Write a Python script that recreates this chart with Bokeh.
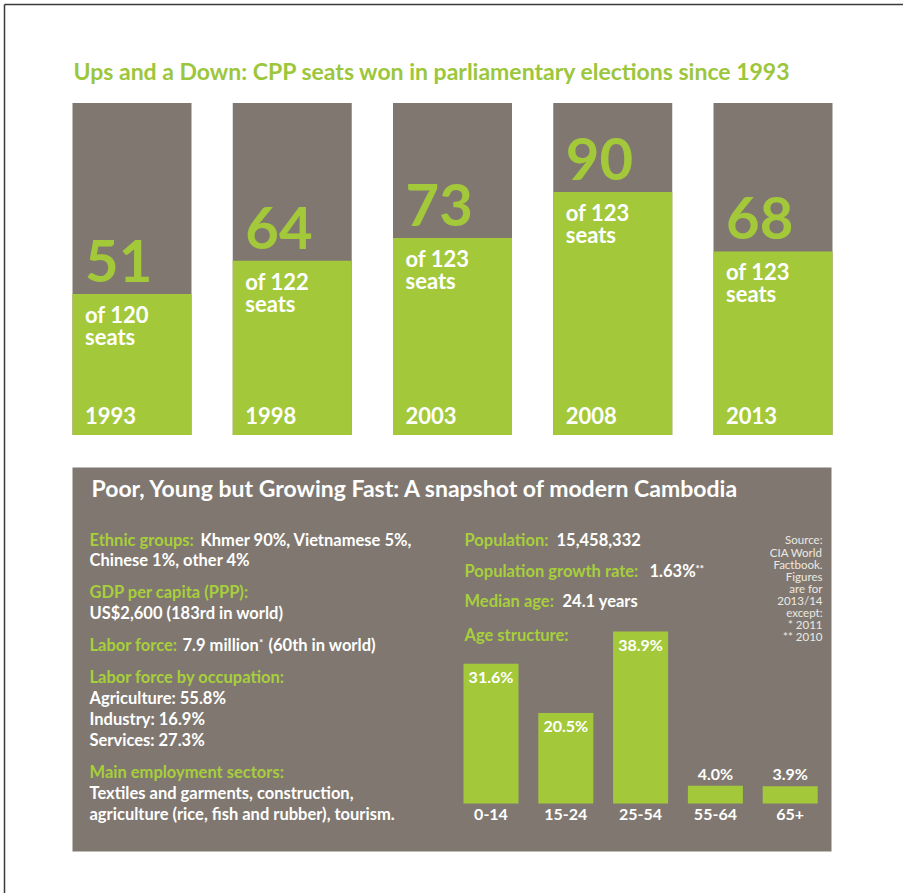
from bokeh.plotting import figure
from bokeh.models import Range1d, ColumnDataSource
from bokeh.core.properties import value
from bokeh.embed import file_html
from bokeh.resources import INLINE

# ---------------- data ----------------
title_top = "Ups and a Down: CPP seats won in parliamentary elections since 1993"
years = [1993, 1998, 2003, 2008, 2013]
seats_won = [51, 64, 73, 90, 68]
seats_total = [120, 122, 123, 123, 123]

title_bottom = "Poor, Young but Growing Fast: A snapshot of modern Cambodia"
age_groups = ["0-14", "15-24", "25-54", "55-64", "65+"]
age_pct = [31.6, 20.5, 38.9, 4.0, 3.9]

left_lines = [  # (green label, white text)
    ("Ethnic groups: ", "Khmer 90%, Vietnamese 5%,"),
    ("", "Chinese 1%, other 4%"),
    ("GDP per capita (PPP):", ""),
    ("", "US$2,600 (183rd in world)"),
    ("Labor force: ", "7.9 million"),
    ("Labor force by occupation:", ""),
    ("", "Agriculture: 55.8%"),
    ("", "Industry: 16.9%"),
    ("", "Services: 27.3%"),
    ("Main employment sectors:", ""),
    ("", "Textiles and garments, construction,"),
    ("", "agriculture (rice, fish and rubber), tourism."),
]
labor_rank = "(60th in world)"
right_lines = [
    ("Population: ", "15,458,332"),
    ("Population growth rate: ", "1.63%"),
    ("Median age: ", "24.1 years"),
    ("Age structure:", ""),
]
source_lines = ["Source:", "CIA World", "Factbook.", "Figures", "are for",
                "2013/14", "except:", "* 2011", "** 2010"]

# ---------------- style / layout ----------------
W, H = 903, 893
GREEN = "#a3c93a"
TGREEN = "#9cc63b"
LG = "#a7cf3b"
GRAY = "#807870"
FONT = value("Lato")
BL = 0.40  # baseline correction (fraction of font size) for the svg text renderer


def fs(px):
    return f"{px}px"


def corr(px):
    return -BL * px


p = figure(width=W, height=H, x_range=Range1d(0, W), y_range=Range1d(H, 0),
           min_border=0, toolbar_location=None, output_backend="svg",
           outline_line_color=None, background_fill_color="white",
           border_fill_color="white")
p.axis.visible = False
p.grid.visible = False

# frame border lines (left/top)
p.segment(x0=[4, 4], y0=[4, 4], x1=[4, W], y1=[H, 4], line_color="#3a3a3a", line_width=1.5)

# ---- top chart: scales mapping years and seat share to the canvas ----
yr_c0, yr_px0, px_per_yr = years[0], 131.5, 32.05
p.extra_x_ranges["yr"] = Range1d(yr_c0 - yr_px0 / px_per_yr, yr_c0 + (W - yr_px0) / px_per_yr)
base_px, full_px = 434.5, 332.0
p.extra_y_ranges["share"] = Range1d((base_px - H) / full_px, base_px / full_px)
bar_w = 119 / px_per_yr

share = [w / t for w, t in zip(seats_won, seats_total)]
src = ColumnDataSource(dict(
    year=years, share=share, full=[1.0] * len(years),
    won=[str(v) for v in seats_won],
    of=[f"of {t}" for t in seats_total],
    seats=["seats"] * len(years),
    ylab=[str(y) for y in years],
    zero=[0.0] * len(years)))

p.vbar(x="year", width=bar_w, bottom=0, top="full", source=src, x_range_name="yr",
       y_range_name="share", fill_color=GRAY, line_color=None)
p.vbar(x="year", width=bar_w, bottom=0, top="share", source=src, x_range_name="yr",
       y_range_name="share", fill_color=GREEN, line_color=None)

common = dict(source=src, x_range_name="yr", y_range_name="share", text_font=FONT,
              text_font_style="bold", text_align="left", text_baseline="alphabetic")
NUM, SUB = 58, 22
p.text(x="year", y="share", text="won", x_offset=-47, y_offset=-10 + corr(NUM),
       text_font_size=fs(NUM), text_color=GREEN, **common)
p.text(x="year", y="share", text="of", x_offset=-47, y_offset=29 + corr(SUB),
       text_font_size=fs(SUB), text_color="white", **common)
p.text(x="year", y="share", text="seats", x_offset=-47, y_offset=51 + corr(SUB),
       text_font_size=fs(SUB), text_color="white", **common)
p.text(x="year", y="zero", text="ylab", x_offset=-47, y_offset=-10.5 + corr(SUB),
       text_font_size=fs(SUB), text_color="white", **common)

TT = 23
p.text(x=[73], y=[80], y_offset=corr(TT), text=[title_top], text_font=FONT,
       text_font_style="bold", text_font_size=fs(TT), text_color=TGREEN,
       text_baseline="alphabetic")

# ---- bottom panel ----
p.quad(left=[72], right=[831], top=[467], bottom=[851], fill_color=GRAY, line_color=None)
p.text(x=[91], y=[497], y_offset=corr(TT), text=[title_bottom], text_font=FONT,
       text_font_style="bold", text_font_size=fs(TT), text_color="white",
       text_baseline="alphabetic")

BODY = 16.5
SUP = 10
body = dict(text_font=FONT, text_font_style="bold", text_font_size=fs(BODY),
            text_baseline="alphabetic", y_offset=corr(BODY))
sup = dict(text_font=FONT, text_font_style="bold", text_font_size=fs(SUP),
           text_baseline="alphabetic", y_offset=-6 + corr(SUP), text_color="white")
left_base = [546, 566, 598, 619, 651, 683, 704, 725, 746, 778, 799, 820]
left_split = {0: 200, 4: 182}
for i, (g, w) in enumerate(left_lines):
    y = left_base[i]
    if g:
        p.text(x=[89], y=[y], text=[g.strip()], text_color=LG, **body)
    if w:
        p.text(x=[left_split.get(i, 89)], y=[y], text=[w], text_color="white", **body)
# footnote mark and rank on the labor force line
p.text(x=[258.5], y=[left_base[4]], text=["*"], **sup)
p.text(x=[268], y=[left_base[4]], text=[labor_rank], text_color="white", **body)

right_base = [546, 577, 607, 641]
right_split = [556, 649, 562, None]
for (g, w), y, xs in zip(right_lines, right_base, right_split):
    p.text(x=[464], y=[y], text=[g.strip()], text_color=LG, **body)
    if w:
        p.text(x=[xs], y=[y], text=[w], text_color="white", **body)
p.text(x=[695], y=[right_base[1]], text=["**"], **sup)

SRC = 11.5
src_base = [544 + 12.1 * i for i in range(len(source_lines))]
p.text(x=[822] * len(source_lines), y=src_base, y_offset=corr(SRC), text=source_lines,
       text_font=FONT, text_font_size=fs(SRC), text_color="#ece8e2", text_align="right",
       text_baseline="alphabetic")

# age structure bars: scales mapping group index and percent to the canvas
age_px0, age_pitch = 490.5, 74.8
p.extra_x_ranges["age"] = Range1d(-age_px0 / age_pitch, (W - age_px0) / age_pitch)
pct_base, px_per_pct = 803.0, 4.42
p.extra_y_ranges["pct"] = Range1d((pct_base - H) / px_per_pct, pct_base / px_per_pct)

AGE = 16
idx = list(range(len(age_groups)))
inside = [v >= 10 for v in age_pct]
asrc = ColumnDataSource(dict(i=idx, pct=age_pct, lab=[f"{v:.1f}%" for v in age_pct],
                             grp=age_groups, zero=[0.0] * len(idx),
                             off=[(19 if s else -6) + corr(AGE) for s in inside]))
abody = dict(text_font=FONT, text_font_style="bold", text_font_size=fs(AGE),
             text_baseline="alphabetic", text_align="center", text_color="white",
             source=asrc, x_range_name="age", y_range_name="pct")
p.vbar(x="i", width=55 / age_pitch, bottom=0, top="pct", source=asrc,
       x_range_name="age", y_range_name="pct", fill_color=GREEN, line_color=None)
p.text(x="i", y="pct", text="lab", y_offset="off", **abody)
p.text(x="i", y="zero", text="grp", y_offset=17 + corr(AGE), **abody)

open("out.html", "w").write(file_html(p, INLINE))
